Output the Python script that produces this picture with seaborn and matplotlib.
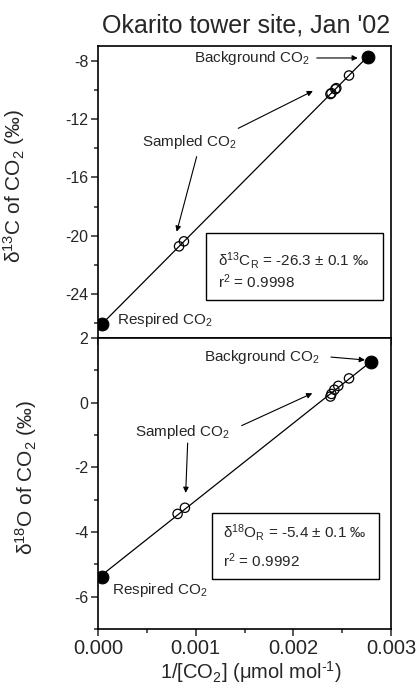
import numpy as np
import pandas as pd
import matplotlib
matplotlib.use("Agg")
import matplotlib.pyplot as plt
from matplotlib.ticker import MultipleLocator
import seaborn as sns

# --- data -------------------------------------------------------------
# delta13C panel
sampled13_x = [0.00083, 0.00088, 0.00238, 0.00239, 0.00243, 0.00244, 0.00257]
sampled13_y = [-20.72, -20.38, -10.29, -10.23, -9.96, -9.89, -9.02]
respired13 = (0.00004, -26.05)
background13 = (0.00276, -7.72)

# delta18O panel
sampled18_x = [0.000815, 0.00089, 0.00238, 0.00239, 0.00242, 0.00246, 0.00257]
sampled18_y = [-3.44, -3.25, 0.19, 0.27, 0.40, 0.52, 0.75]
respired18 = (0.00004, -5.38)
background18 = (0.0028, 1.27)

stats13 = ("-26.3", "0.1", "0.9998")
stats18 = ("-5.4", "0.1", "0.9992")

x_ticks = [0.000, 0.001, 0.002, 0.003]
x_tick_labels = ["0.000", "0.001", "0.002", "0.003"]
y13_ticks = [-8, -12, -16, -20, -24]
y18_ticks = [2, 0, -2, -4, -6]

# --- style ------------------------------------------------------------
sns.set_style("ticks")
plt.rcParams["font.family"] = ["Liberation Sans", "DejaVu Sans"]
plt.rcParams["mathtext.fontset"] = "custom"
plt.rcParams["mathtext.rm"] = "Liberation Sans"
plt.rcParams["mathtext.it"] = "Liberation Sans:italic"
plt.rcParams["mathtext.bf"] = "Liberation Sans:bold"
plt.rcParams["axes.linewidth"] = 1.2

fig = plt.figure(figsize=(4.18, 6.89), dpi=100)
L, R = 98 / 418, 391 / 418
ax1 = fig.add_axes([L, 1 - 338 / 689, R - L, (338 - 46) / 689])
ax2 = fig.add_axes([L, 1 - 629 / 689, R - L, (629 - 338) / 689])


def panel(ax, sx, sy, resp, back, minor_step):
    df_s = pd.DataFrame({"x": sx, "y": sy})
    df_all = pd.DataFrame({"x": [resp[0]] + list(sx) + [back[0]],
                           "y": [resp[1]] + list(sy) + [back[1]]})
    # least-squares mixing line through all samples
    sns.regplot(data=df_all, x="x", y="y", ax=ax, scatter=False, ci=None,
                truncate=True, line_kws=dict(color="black", lw=0.9))
    sns.scatterplot(data=df_s, x="x", y="y", ax=ax, marker="o", s=45,
                    facecolor="none", edgecolor="black", linewidth=0.9,
                    zorder=3)
    df_f = pd.DataFrame({"x": [resp[0], back[0]], "y": [resp[1], back[1]]})
    sns.scatterplot(data=df_f, x="x", y="y", ax=ax, marker="o", s=85,
                    color="black", edgecolor="black", zorder=4)
    ax.set_xlim(0, 0.003)
    ax.set_xticks(x_ticks)
    ax.xaxis.set_minor_locator(MultipleLocator(0.0005))
    ax.yaxis.set_minor_locator(MultipleLocator(minor_step))
    ax.tick_params(which="major", length=5, width=1.1, direction="out")
    ax.tick_params(which="minor", length=3, width=1.1, direction="out")
    ax.tick_params(axis="y", labelsize=11.5, pad=2)
    ax.tick_params(axis="x", labelsize=14.5, pad=2)
    for sp in ax.spines.values():
        sp.set_visible(True)
        sp.set_color("black")


panel(ax1, sampled13_x, sampled13_y, respired13, background13, 2)
panel(ax2, sampled18_x, sampled18_y, respired18, background18, 1)

ax1.set_ylim(-27, -7)
ax1.set_yticks(y13_ticks)
ax1.set_yticklabels([str(v) for v in y13_ticks])
ax1.set_xticklabels([])
ax1.set_xlabel("")

ax2.set_ylim(-7, 2)
ax2.set_yticks(y18_ticks)
ax2.set_yticklabels([str(v) for v in y18_ticks])
ax2.set_xticklabels(x_tick_labels)

ax1.set_ylabel("δ$^{13}$C of CO$_2$ (‰)", fontsize=15)
ax2.set_ylabel("δ$^{18}$O of CO$_2$ (‰)", fontsize=15)
ax1.yaxis.set_label_coords(-0.242, 0.52)
ax2.yaxis.set_label_coords(-0.20, 0.52)
ax2.set_xlabel("1/[CO$_2$] (μmol mol$^{\\text{-}1}$)", fontsize=14.5)
ax2.xaxis.set_label_coords(0.522, -0.105)

fig.text(0.5 * (L + R) + 0.003, 1 - 33 / 689, "Okarito tower site, Jan '02",
         ha="center", va="baseline", fontsize=18)

arrow = dict(arrowstyle="-|>", color="black", lw=0.8, mutation_scale=8,
             shrinkA=0, shrinkB=0)
fs = 11

# annotations, delta13C panel
ax1.text(0.00217, -7.82, "Background CO$_2$", ha="right", va="center", fontsize=fs)
ax1.annotate("", xy=(0.00266, -7.82), xytext=(0.00224, -7.82), arrowprops=arrow)
ax1.text(0.00094, -13.58, "Sampled CO$_2$", ha="center", va="center", fontsize=fs)
ax1.annotate("", xy=(0.000806, -19.72), xytext=(0.00101, -14.58), arrowprops=arrow)
ax1.annotate("", xy=(0.0022, -10.08), xytext=(0.001436, -12.64), arrowprops=arrow)
ax1.text(0.000195, -25.77, "Respired CO$_2$", ha="left", va="center", fontsize=fs)
ax1.add_patch(plt.Rectangle((0.3686, 0.130), 0.9727 - 0.3686, 0.3596 - 0.130,
                            transform=ax1.transAxes, fill=False,
                            edgecolor="black", lw=1.0))
ax1.text(0.4096, 0.267, "δ$^{13}$C$_\\mathrm{R}$ = %s ± %s ‰" % stats13[:2],
         transform=ax1.transAxes, ha="left", va="center", fontsize=fs)
ax1.text(0.4096, 0.192, "r$^2$ = %s" % stats13[2],
         transform=ax1.transAxes, ha="left", va="center", fontsize=fs)

# annotations, delta18O panel
ax2.text(0.00227, 1.41, "Background CO$_2$", ha="right", va="center", fontsize=fs)
ax2.annotate("", xy=(0.002733, 1.32), xytext=(0.002385, 1.41), arrowprops=arrow)
ax2.text(0.00086, -0.91, "Sampled CO$_2$", ha="center", va="center", fontsize=fs)
ax2.annotate("", xy=(0.000898, -2.79), xytext=(0.000918, -1.25), arrowprops=arrow)
ax2.annotate("", xy=(0.002194, 0.29), xytext=(0.001471, -0.71), arrowprops=arrow)
ax2.text(0.000143, -5.79, "Respired CO$_2$", ha="left", va="center", fontsize=fs)
ax2.add_patch(plt.Rectangle((0.389, 0.1718), 0.959 - 0.389, 0.3986 - 0.1718,
                            transform=ax2.transAxes, fill=False,
                            edgecolor="black", lw=1.0))
ax2.text(0.4266, 0.33, "δ$^{18}$O$_\\mathrm{R}$ = %s ± %s ‰" % stats18[:2],
         transform=ax2.transAxes, ha="left", va="center", fontsize=fs)
ax2.text(0.4266, 0.234, "r$^2$ = %s" % stats18[2],
         transform=ax2.transAxes, ha="left", va="center", fontsize=fs)

fig.savefig("out.png", dpi=100)
